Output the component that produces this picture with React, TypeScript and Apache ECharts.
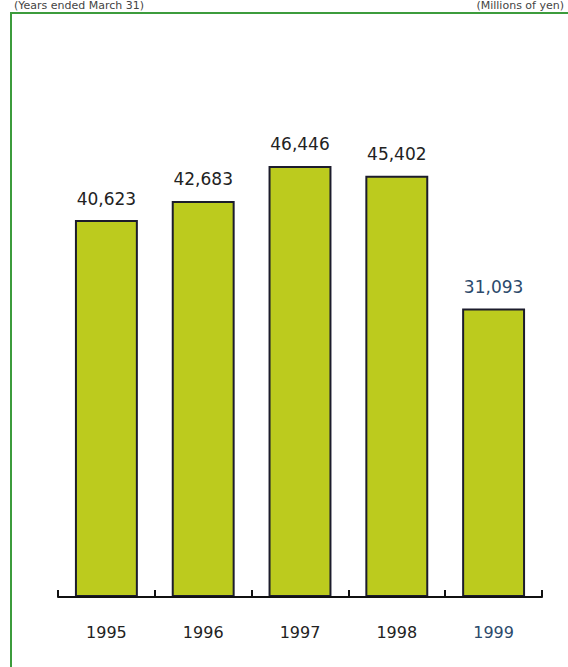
import React, { useEffect, useRef } from "react";
import * as echarts from "echarts";

const years = ["1995", "1996", "1997", "1998", "1999"];
const values = [40623, 42683, 46446, 45402, 31093];
const highlightYear = "1999";
const topLeftNote = "(Years ended March 31)";
const topRightNote = "(Millions of yen)";

export default function App() {
  const ref = useRef<HTMLDivElement>(null);
  useEffect(() => {
    if (!ref.current) return;
    const chart = echarts.init(ref.current, null, { renderer: "svg" });
    const font = "DejaVu Sans";
    const blue = "#2c4a6c";
    const idx = years.indexOf(highlightYear);
    chart.setOption({
      animation: false,
      backgroundColor: "#ffffff",
      graphic: [
        {
          type: "rect",
          shape: { x: 11, y: 13, width: 620, height: 700 },
          style: { fill: "none", stroke: "#3c9c3c", lineWidth: 2 },
          silent: true,
        },
        {
          type: "text",
          x: 14,
          y: 0,
          style: { text: topLeftNote, font: `11px "${font}"`, fill: "#444" },
        },
        {
          type: "text",
          x: 564,
          y: 0,
          style: { text: topRightNote, font: `11px "${font}"`, fill: "#444", textAlign: "right" },
        },
      ],
      grid: { left: 58, right: 26, top: 133, bottom: 70 },
      xAxis: {
        type: "category",
        data: years,
        axisLine: { show: true, lineStyle: { color: "#111", width: 2 } },
        axisTick: {
          show: true,
          interval: 0,
          inside: true,
          length: 7,
          lineStyle: { color: "#111", width: 2 },
        },
        z: 10,
        axisLabel: {
          margin: 27,
          fontFamily: font,
          fontSize: 16,
          color: (v: string) => (v === highlightYear ? blue : "#222"),
        },
      },
      yAxis: { type: "value", min: 0, max: 50000, show: false, splitLine: { show: false } },
      series: [
        {
          type: "bar",
          data: values.map((v, i) =>
            i === idx ? { value: v, label: { color: blue } } : v
          ),
          barWidth: "65%",
          itemStyle: { color: "#bccb1e", borderColor: "#1c1c2c", borderWidth: 2 },
          label: {
            show: true,
            position: "top",
            distance: 13,
            fontFamily: font,
            fontSize: 17,
            formatter: (p: any) => Number(p.value).toLocaleString("en-US"),
            color: "#222",
          },
        },
      ],
    });
    return () => chart.dispose();
  }, []);
  return (
    <div
      ref={ref}
      style={{ position: "fixed", left: 0, top: 0, width: 568, height: 667 }}
    />
  );
}
